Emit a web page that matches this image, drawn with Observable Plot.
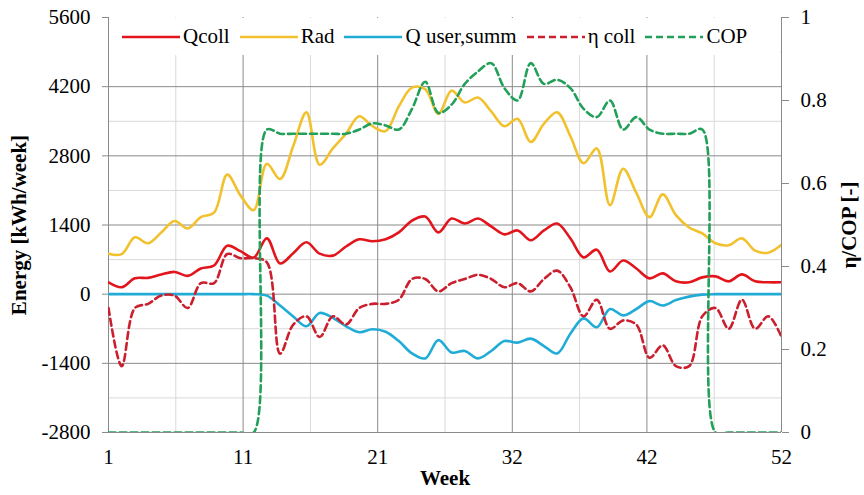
<!DOCTYPE html>
<html><head><meta charset="utf-8">
<script src="https://cdn.jsdelivr.net/npm/d3@7"></script>
<script src="https://cdn.jsdelivr.net/npm/@observablehq/plot@0.6"></script>
<style>
body{margin:0;background:#fff;font-family:'Liberation Serif',serif;}
#wrap{position:relative;width:864px;height:495px;font-family:'Liberation Serif',serif;}
#wrap svg, #wrap svg text, #legend, #legend span{font-family:'Liberation Serif',serif !important;}
#legend{position:absolute;left:109px;top:18px;width:671px;height:37px;background:#fff;display:flex;align-items:center;font-size:21px;color:#000;padding-left:13px;box-sizing:border-box;}
.item{display:flex;align-items:center;margin-right:10px;white-space:nowrap;}
.item svg{margin-right:3px;}
</style></head>
<body><div id="wrap"><div id="chart"></div><div id="legend"></div></div>
<script>
const weeks = [1,2,3,4,5,6,7,8,9,10,11,12,13,14,15,16,17,18,19,20,21,22,23,24,25,26,27,28,29,30,31,32,33,34,35,36,37,38,39,40,41,42,43,44,45,46,47,48,49,50,51,52];
const qcoll = [240,140,320,330,400,450,370,520,580,980,870,740,1130,620,830,1050,820,780,965,1110,1070,1110,1250,1490,1570,1250,1530,1430,1530,1370,1210,1290,1090,1290,1430,1130,745,900,460,680,520,320,420,260,240,340,360,260,400,260,240,240];
const rad = [820,810,1150,1030,1250,1480,1330,1560,1650,2420,2000,1700,2640,2330,3000,3680,2620,2950,3250,3600,3400,3300,3800,4180,4150,3650,4120,3880,3980,3700,3400,3550,3080,3450,3680,3200,2650,2950,1800,2540,2050,1560,2020,1600,1350,1230,1030,990,1130,880,840,1000];
const quser = [0,0,0,0,0,0,0,0,0,0,0,0,-30,-230,-450,-650,-380,-480,-650,-770,-710,-760,-950,-1200,-1300,-930,-1180,-1150,-1300,-1150,-950,-980,-900,-1050,-1200,-800,-490,-670,-300,-430,-300,-140,-230,-120,-50,-10,0,0,0,0,0,0];
const eta = [0.30,0.16,0.30,0.31,0.33,0.33,0.30,0.36,0.36,0.43,0.42,0.42,0.41,0.19,0.26,0.28,0.23,0.28,0.26,0.30,0.31,0.31,0.32,0.37,0.37,0.34,0.36,0.37,0.38,0.37,0.35,0.36,0.34,0.37,0.39,0.35,0.28,0.32,0.25,0.27,0.26,0.18,0.21,0.16,0.16,0.28,0.30,0.25,0.32,0.25,0.28,0.23];
const cop = [0,0,0,0,0,0,0,0,0,0,0,0,0.73,0.72,0.72,0.72,0.72,0.72,0.72,0.73,0.745,0.74,0.73,0.78,0.845,0.77,0.79,0.84,0.87,0.89,0.83,0.80,0.89,0.84,0.85,0.83,0.78,0.76,0.80,0.73,0.76,0.73,0.72,0.72,0.72,0.73,0,0,0,0,0,0];

const leftTicks = [-2800,-1400,0,1400,2800,4200,5600];
const leftMinor = [-2100,-700,700,2100,3500,4900];
const rightTicks = [0,0.2,0.4,0.6,0.8,1];
const xTicks = [1,11.2,21.4,31.6,41.8,52];
const xMajorGrid = [11.2,21.4,31.6,41.8];
const xMinorGrid = [6.1,16.3,26.5,36.7,46.9];

const series = [
  {name:"Qcoll", key:"qcoll", color:"#e3151c", dash:null, right:false},
  {name:"Rad", key:"rad", color:"#f2c12e", dash:null, right:false},
  {name:"Q user,summ", key:"quser", color:"#20acd6", dash:null, right:false},
  {name:"η coll", key:"eta", color:"#cc1f2e", dash:"7,4", right:true},
  {name:"COP", key:"cop", color:"#22a05a", dash:"7,4", right:true}
];

const E0 = -2800, E1 = 5600;
const toE = r => E0 + r * (E1 - E0);
const fromE = v => (v - E0) / (E1 - E0);

const data = weeks.map((w, i) => ({week: w, qcoll: qcoll[i], rad: rad[i], quser: quser[i], eta: eta[i], cop: cop[i]}));

const gridDark = "#8a8a8a", gridLight = "#d9d9d9";
const FONT = "'Liberation Serif', serif";

const lineMarks = series.map(s => Plot.line(data, {
  x: "week",
  y: s.right ? (d => toE(d[s.key])) : s.key,
  stroke: s.color, strokeWidth: 2.6, strokeDasharray: s.dash, curve: "catmull-rom", clip: true
}));

const chart = Plot.plot({
  width: 864, height: 495,
  marginLeft: 108, marginRight: 83, marginTop: 17, marginBottom: 63,
  style: {fontFamily: FONT, fontSize: "21px", color: "#000", background: "#fff"},
  x: {domain: [1, 52]},
  y: {domain: [E0, E1]},
  marks: [
    Plot.gridY(leftMinor, {stroke: gridLight, strokeOpacity: 1}),
    Plot.gridX(xMinorGrid, {stroke: gridLight, strokeOpacity: 1}),
    Plot.gridY(leftTicks.slice(1, -1), {stroke: gridDark, strokeOpacity: 1}),
    Plot.gridX(xMajorGrid, {stroke: gridDark, strokeOpacity: 1}),
    Plot.ruleX([1, 52], {stroke: gridDark}),
    Plot.ruleY([E0], {stroke: gridDark}),
    Plot.axisY(leftTicks, {tickSize: 6, tickPadding: 12, tickFormat: d => String(d), label: null, stroke: gridDark, fill: "#000"}),
    Plot.axisY(rightTicks.map(toE), {anchor: "right", tickSize: 7, tickPadding: 12, tickFormat: v => String(Math.round(fromE(v) * 10) / 10), label: null, stroke: gridDark, fill: "#000"}),
    Plot.axisX(xTicks, {tickSize: 0, tickPadding: 17, tickFormat: d => String(Math.round(d)), label: null, fill: "#000"}),
    ...lineMarks,
    Plot.text(["Energy [kWh/week]"], {frameAnchor: "left", rotate: -90, dx: -89, textAnchor: "middle", lineAnchor: "middle", fontWeight: "bold", fontSize: 21}),
    Plot.text(["η/COP [-]"], {frameAnchor: "right", rotate: -90, dx: 68, textAnchor: "middle", lineAnchor: "middle", fontWeight: "bold", fontSize: 21}),
    Plot.text(["Week"], {frameAnchor: "bottom", dy: 38, textAnchor: "middle", lineAnchor: "top", fontWeight: "bold", fontSize: 21})
  ]
});
document.getElementById("chart").appendChild(chart);

const legend = document.getElementById("legend");
series.forEach(s => {
  const item = document.createElement("div");
  item.className = "item";
  item.innerHTML = `<svg width="58" height="10"><line x1="0" y1="5" x2="58" y2="5" stroke="${s.color}" stroke-width="2.6" ${s.dash ? `stroke-dasharray="${s.dash}"` : ""}/></svg><span>${s.name}</span>`;
  legend.appendChild(item);
});
</script>
</body></html>
